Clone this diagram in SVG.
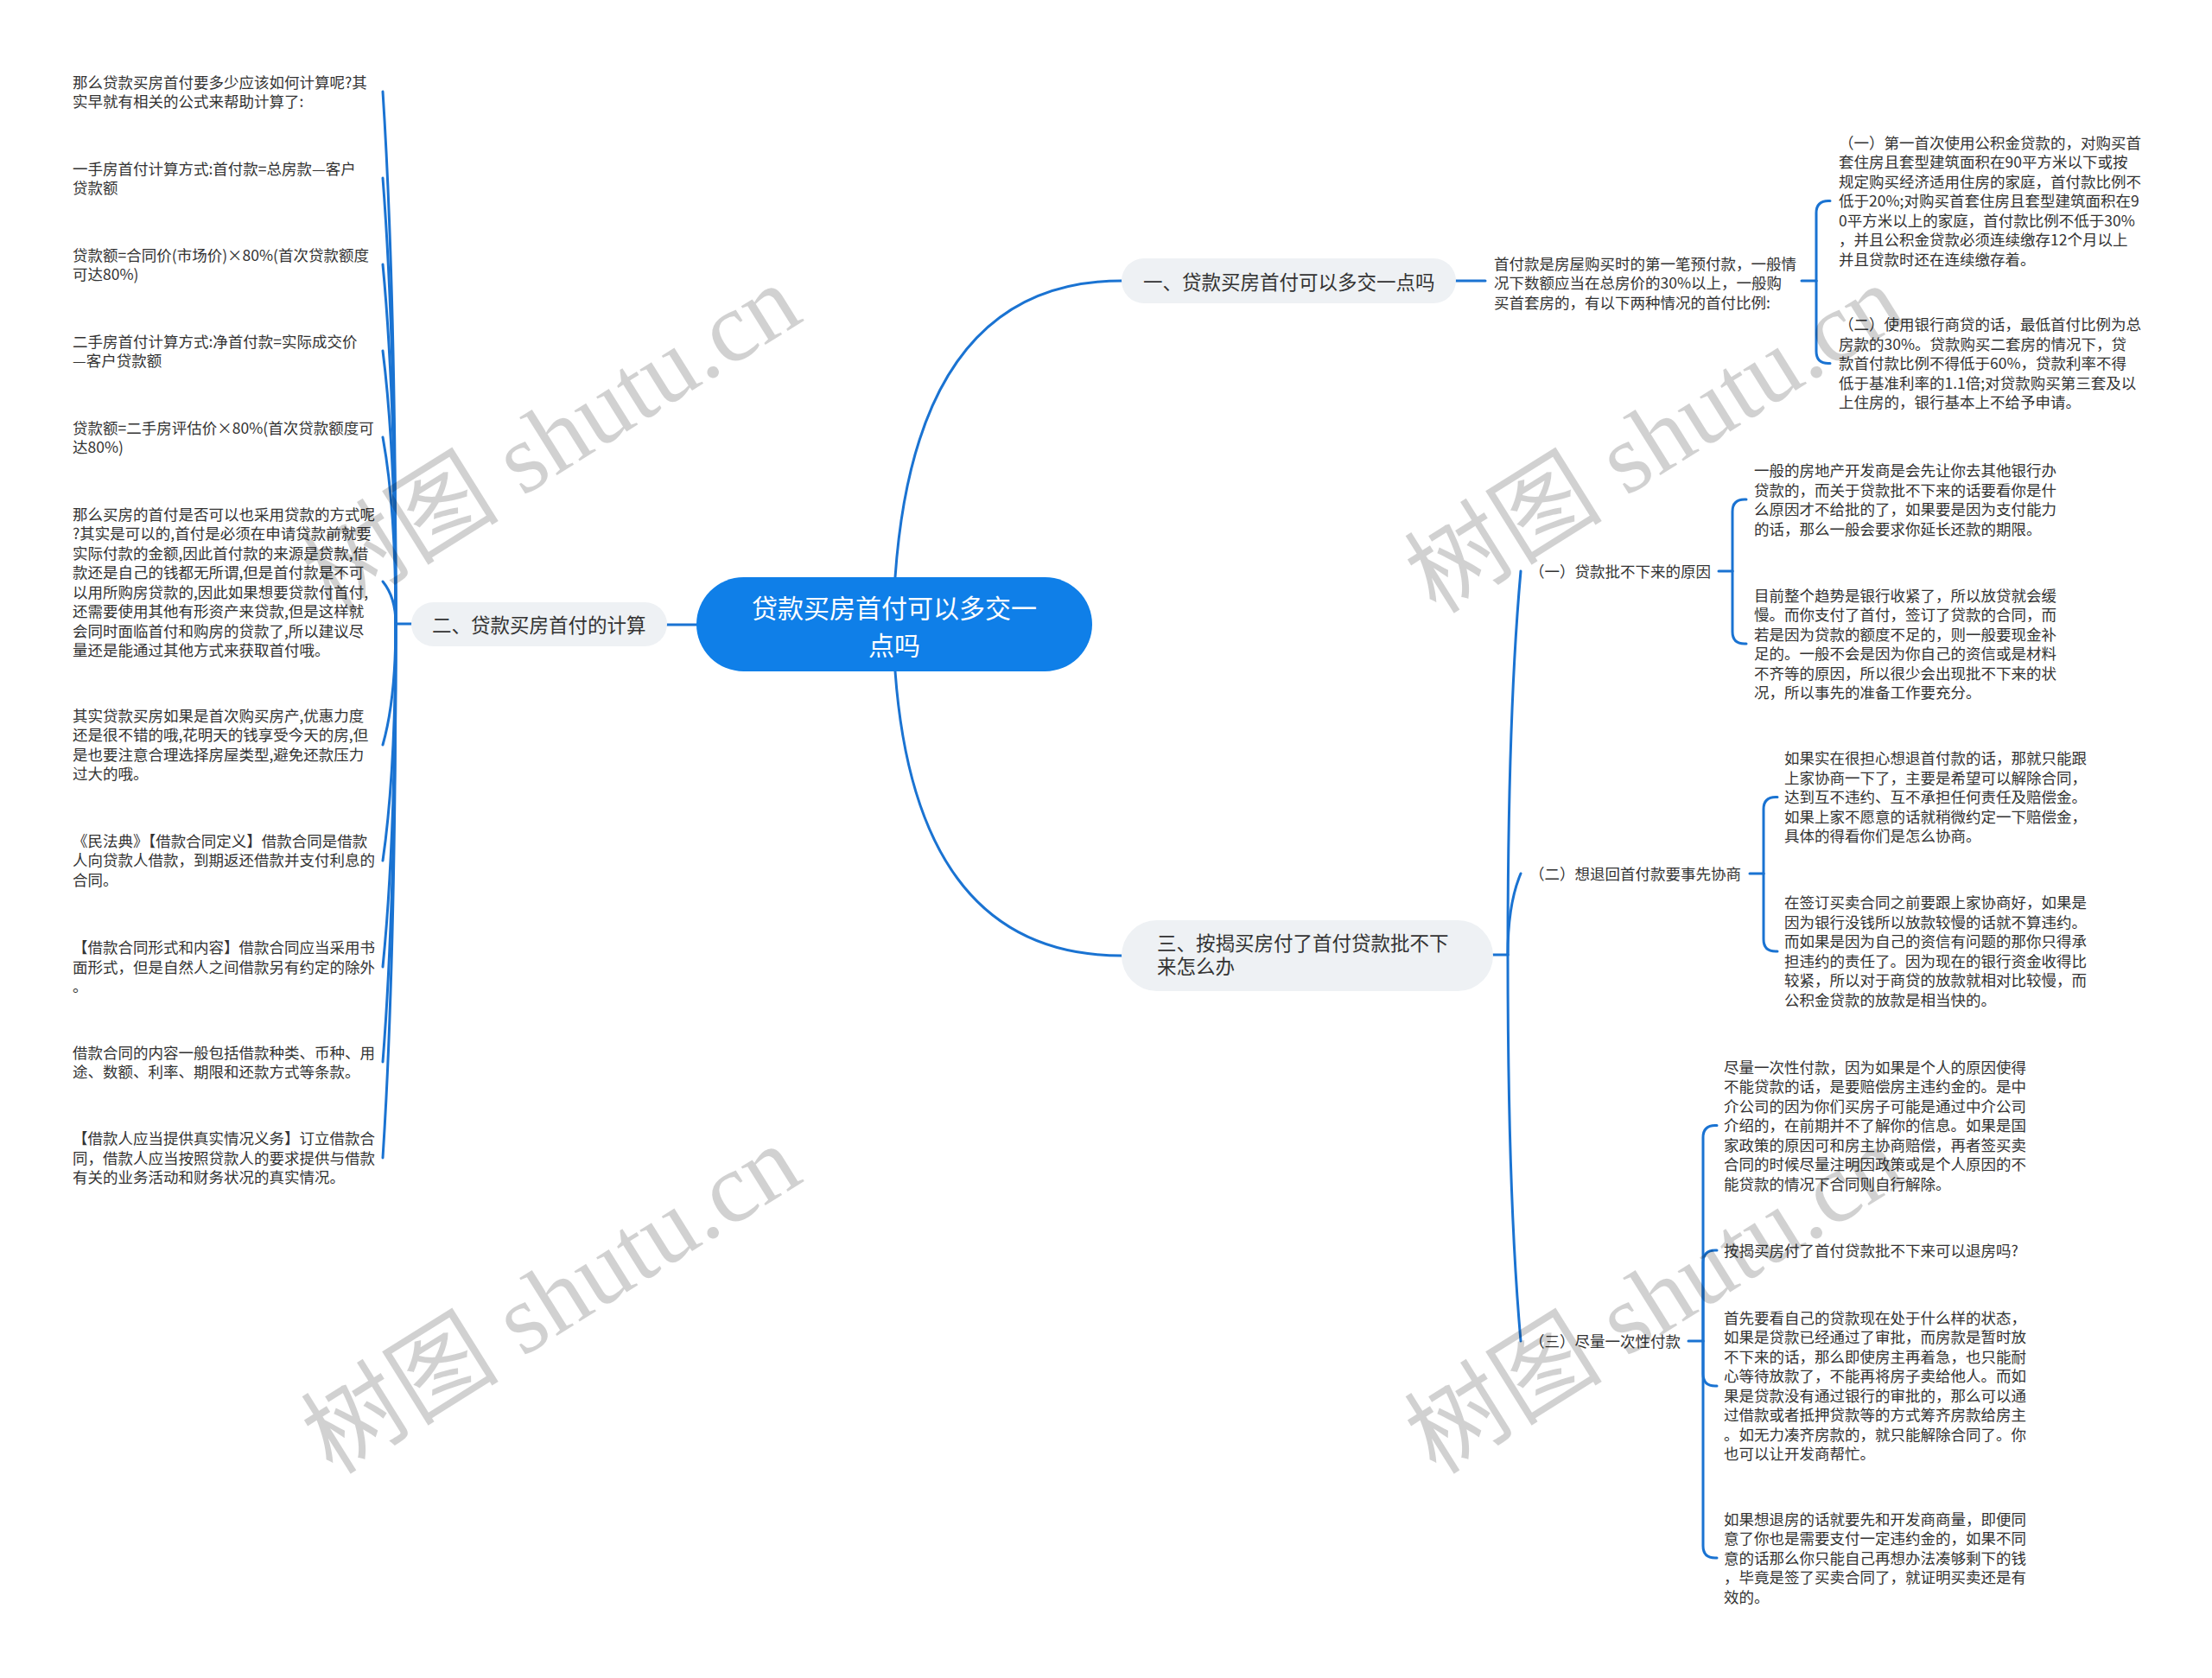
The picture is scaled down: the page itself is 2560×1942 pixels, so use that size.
<svg xmlns="http://www.w3.org/2000/svg" width="2560" height="1942" viewBox="0 0 2560 1942">
<style>
.t{font-family:"Noto Sans CJK SC","Microsoft YaHei",sans-serif;font-size:17.5px;fill:#333}
.b{font-family:"Noto Sans CJK SC","Microsoft YaHei",sans-serif;font-size:22.5px;fill:#333}
.r{font-family:"Noto Sans CJK SC","Microsoft YaHei",sans-serif;font-size:30px;fill:#fff}
.bf{fill:#eef1f4}
.ln{fill:none;stroke:#1a73d2;stroke-width:3;stroke-linecap:round}
.wm{font-family:"Liberation Serif","Noto Sans CJK SC",serif;font-size:115px;fill:#000;fill-opacity:0.18}
</style>
<rect width="2560" height="1942" fill="#fff"/>
<g id="connectors" class="ln">
<path d="M1036 668 Q1060 325 1298 325"/>
<path d="M1036 777 Q1060 1106 1298 1106"/>
<path d="M772 723 H806"/>
<path d="M476 722 H458"/>
<path d="M458 722 C458 568 457 321.6 443 106"/>
<path d="M458 722 C458 593 457 386.6 443 206"/>
<path d="M458 722 C458 618 457 451.6 443 306"/>
<path d="M458 722 C458 643 457 516.6 443 406"/>
<path d="M458 722 C458 668 457 581.6 443 506"/>
<path d="M458 722 C458 709.8 457 690.2 443 673"/>
<path d="M458 722 C458 757 457 813 443 862"/>
<path d="M458 722 C458 790.5 457 900.1 443 996"/>
<path d="M458 722 C458 821.3 457 980 443 1119"/>
<path d="M458 722 C458 848.8 457 1051.6 443 1229"/>
<path d="M458 722 C458 876.5 457 1123.7 443 1340"/>
<path d="M1685 325 H1719"/>
<path d="M2085 325 H2102"/>
<path d="M2102 325 V246.5 Q2102 232.5 2116 232.5 H2118"/>
<path d="M2102 325 V406.5 Q2102 420.5 2116 420.5 H2118"/>
<path d="M1728 1105 H1745"/>
<path d="M1745 1105 C1745 994 1746 816 1760 661"/>
<path d="M1745 1105 C1745 1081.5 1746 1043.9 1760 1011"/>
<path d="M1745 1105 C1745 1216.8 1746 1395.6 1760 1552"/>
<path d="M1989 661 H2005"/>
<path d="M2005 661 V592 Q2005 578 2019 578 H2021"/>
<path d="M2005 661 V731 Q2005 745 2019 745 H2021"/>
<path d="M2025 1011 H2041"/>
<path d="M2041 1011 V936.5 Q2041 922.5 2055 922.5 H2057"/>
<path d="M2041 1011 V1087 Q2041 1101 2055 1101 H2057"/>
<path d="M1954 1552 H1971"/>
<path d="M1971 1552 V1316.5 Q1971 1302.5 1985 1302.5 H1987"/>
<path d="M1971 1552 V1461 Q1971 1447 1985 1447 H1987"/>
<path d="M1971 1552 V1590 Q1971 1604 1985 1604 H1987"/>
<path d="M1971 1552 V1789 Q1971 1803 1985 1803 H1987"/>
</g>
<g id="root">
<rect x="806" y="668" width="458" height="109" rx="54.5" fill="#0f7fe8"/>
<text class="r" text-anchor="middle"><tspan x="1035" y="714.5">贷款买房首付可以多交一</tspan><tspan x="1035" y="758">点吗</tspan></text>
</g>
<g id="branch1">
<rect class="bf" x="1298" y="299" width="387" height="52" rx="26"/>
<text class="b" x="1323" y="334.5">一、贷款买房首付可以多交一点吗</text>
</g>
<g id="b1-intro">
<text class="t"><tspan x="1729" y="311.5">首付款是房屋购买时的第一笔预付款，一般情</tspan><tspan x="1729" dy="22.5">况下数额应当在总房价的30%以上，一般购</tspan><tspan x="1729" dy="22.5">买首套房的，有以下两种情况的首付比例:</tspan></text>
</g>
<g id="b1-c1">
<text class="t"><tspan x="2128" y="171.5">（一）第一首次使用公积金贷款的，对购买首</tspan><tspan x="2128" dy="22.5">套住房且套型建筑面积在90平方米以下或按</tspan><tspan x="2128" dy="22.5">规定购买经济适用住房的家庭，首付款比例不</tspan><tspan x="2128" dy="22.5">低于20%;对购买首套住房且套型建筑面积在9</tspan><tspan x="2128" dy="22.5">0平方米以上的家庭，首付款比例不低于30%</tspan><tspan x="2128" dy="22.5">，并且公积金贷款必须连续缴存12个月以上</tspan><tspan x="2128" dy="22.5">并且贷款时还在连续缴存着。</tspan></text>
</g>
<g id="b1-c2">
<text class="t"><tspan x="2128" y="382">（二）使用银行商贷的话，最低首付比例为总</tspan><tspan x="2128" dy="22.5">房款的30%。贷款购买二套房的情况下，贷</tspan><tspan x="2128" dy="22.5">款首付款比例不得低于60%，贷款利率不得</tspan><tspan x="2128" dy="22.5">低于基准利率的1.1倍;对贷款购买第三套及以</tspan><tspan x="2128" dy="22.5">上住房的，银行基本上不给予申请。</tspan></text>
</g>
<g id="branch2">
<rect class="bf" x="476" y="697" width="296" height="51" rx="25.5"/>
<text class="b" x="500" y="731.5">二、贷款买房首付的计算</text>
</g>
<g id="l1"><text class="t"><tspan x="84" y="101.5">那么贷款买房首付要多少应该如何计算呢?其</tspan><tspan x="84" dy="22.5">实早就有相关的公式来帮助计算了:</tspan></text></g>
<g id="l2"><text class="t"><tspan x="84" y="201.5">一手房首付计算方式:首付款=总房款—客户</tspan><tspan x="84" dy="22.5">贷款额</tspan></text></g>
<g id="l3"><text class="t"><tspan x="84" y="301.5">贷款额=合同价(市场价)×80%(首次贷款额度</tspan><tspan x="84" dy="22.5">可达80%)</tspan></text></g>
<g id="l4"><text class="t"><tspan x="84" y="401.5">二手房首付计算方式:净首付款=实际成交价</tspan><tspan x="84" dy="22.5">—客户贷款额</tspan></text></g>
<g id="l5"><text class="t"><tspan x="84" y="501.5">贷款额=二手房评估价×80%(首次贷款额度可</tspan><tspan x="84" dy="22.5">达80%)</tspan></text></g>
<g id="l6"><text class="t"><tspan x="84" y="601.5">那么买房的首付是否可以也采用贷款的方式呢</tspan><tspan x="84" dy="22.5">?其实是可以的,首付是必须在申请贷款前就要</tspan><tspan x="84" dy="22.5">实际付款的金额,因此首付款的来源是贷款,借</tspan><tspan x="84" dy="22.5">款还是自己的钱都无所谓,但是首付款是不可</tspan><tspan x="84" dy="22.5">以用所购房贷款的,因此如果想要贷款付首付,</tspan><tspan x="84" dy="22.5">还需要使用其他有形资产来贷款,但是这样就</tspan><tspan x="84" dy="22.5">会同时面临首付和购房的贷款了,所以建议尽</tspan><tspan x="84" dy="22.5">量还是能通过其他方式来获取首付哦。</tspan></text></g>
<g id="l7"><text class="t"><tspan x="84" y="834.5">其实贷款买房如果是首次购买房产,优惠力度</tspan><tspan x="84" dy="22.5">还是很不错的哦,花明天的钱享受今天的房,但</tspan><tspan x="84" dy="22.5">是也要注意合理选择房屋类型,避免还款压力</tspan><tspan x="84" dy="22.5">过大的哦。</tspan></text></g>
<g id="l8"><text class="t"><tspan x="84" y="979.5">《民法典》【借款合同定义】借款合同是借款</tspan><tspan x="84" dy="22.5">人向贷款人借款，到期返还借款并支付利息的</tspan><tspan x="84" dy="22.5">合同。</tspan></text></g>
<g id="l9"><text class="t"><tspan x="84" y="1103">【借款合同形式和内容】借款合同应当采用书</tspan><tspan x="84" dy="22.5">面形式，但是自然人之间借款另有约定的除外</tspan><tspan x="84" dy="22.5">。</tspan></text></g>
<g id="l10"><text class="t"><tspan x="84" y="1224.5">借款合同的内容一般包括借款种类、币种、用</tspan><tspan x="84" dy="22.5">途、数额、利率、期限和还款方式等条款。</tspan></text></g>
<g id="l11"><text class="t"><tspan x="84" y="1324">【借款人应当提供真实情况义务】订立借款合</tspan><tspan x="84" dy="22.5">同，借款人应当按照贷款人的要求提供与借款</tspan><tspan x="84" dy="22.5">有关的业务活动和财务状况的真实情况。</tspan></text></g>
<g id="branch3">
<rect class="bf" x="1298" y="1065" width="430" height="82" rx="41"/>
<text class="b"><tspan x="1339" y="1100">三、按揭买房付了首付贷款批不下</tspan><tspan x="1339" y="1127">来怎么办</tspan></text>
</g>
<g id="s1"><text class="t" x="1770" y="667.5">（一）贷款批不下来的原因</text></g>
<g id="s1-a1"><text class="t"><tspan x="2030" y="551">一般的房地产开发商是会先让你去其他银行办</tspan><tspan x="2030" dy="22.5">贷款的，而关于贷款批不下来的话要看你是什</tspan><tspan x="2030" dy="22.5">么原因才不给批的了，如果要是因为支付能力</tspan><tspan x="2030" dy="22.5">的话，那么一般会要求你延长还款的期限。</tspan></text></g>
<g id="s1-a2"><text class="t"><tspan x="2030" y="695.5">目前整个趋势是银行收紧了，所以放贷就会缓</tspan><tspan x="2030" dy="22.5">慢。而你支付了首付，签订了贷款的合同，而</tspan><tspan x="2030" dy="22.5">若是因为贷款的额度不足的，则一般要现金补</tspan><tspan x="2030" dy="22.5">足的。一般不会是因为你自己的资信或是材料</tspan><tspan x="2030" dy="22.5">不齐等的原因，所以很少会出现批不下来的状</tspan><tspan x="2030" dy="22.5">况，所以事先的准备工作要充分。</tspan></text></g>
<g id="s2"><text class="t" x="1770" y="1017.5">（二）想退回首付款要事先协商</text></g>
<g id="s2-b1"><text class="t"><tspan x="2065" y="884">如果实在很担心想退首付款的话，那就只能跟</tspan><tspan x="2065" dy="22.5">上家协商一下了，主要是希望可以解除合同，</tspan><tspan x="2065" dy="22.5">达到互不违约、互不承担任何责任及赔偿金。</tspan><tspan x="2065" dy="22.5">如果上家不愿意的话就稍微约定一下赔偿金，</tspan><tspan x="2065" dy="22.5">具体的得看你们是怎么协商。</tspan></text></g>
<g id="s2-b2"><text class="t"><tspan x="2065" y="1051">在签订买卖合同之前要跟上家协商好，如果是</tspan><tspan x="2065" dy="22.5">因为银行没钱所以放款较慢的话就不算违约。</tspan><tspan x="2065" dy="22.5">而如果是因为自己的资信有问题的那你只得承</tspan><tspan x="2065" dy="22.5">担违约的责任了。因为现在的银行资金收得比</tspan><tspan x="2065" dy="22.5">较紧，所以对于商贷的放款就相对比较慢，而</tspan><tspan x="2065" dy="22.5">公积金贷款的放款是相当快的。</tspan></text></g>
<g id="s3"><text class="t" x="1770" y="1558.5">（三）尽量一次性付款</text></g>
<g id="s3-c1"><text class="t"><tspan x="1995" y="1241.5">尽量一次性付款，因为如果是个人的原因使得</tspan><tspan x="1995" dy="22.5">不能贷款的话，是要赔偿房主违约金的。是中</tspan><tspan x="1995" dy="22.5">介公司的因为你们买房子可能是通过中介公司</tspan><tspan x="1995" dy="22.5">介绍的，在前期并不了解你的信息。如果是国</tspan><tspan x="1995" dy="22.5">家政策的原因可和房主协商赔偿，再者签买卖</tspan><tspan x="1995" dy="22.5">合同的时候尽量注明因政策或是个人原因的不</tspan><tspan x="1995" dy="22.5">能贷款的情况下合同则自行解除。</tspan></text></g>
<g id="s3-c2"><text class="t" x="1995" y="1453.5">按揭买房付了首付贷款批不下来可以退房吗?</text></g>
<g id="s3-c3"><text class="t"><tspan x="1995" y="1531.5">首先要看自己的贷款现在处于什么样的状态，</tspan><tspan x="1995" dy="22.5">如果是贷款已经通过了审批，而房款是暂时放</tspan><tspan x="1995" dy="22.5">不下来的话，那么即使房主再着急，也只能耐</tspan><tspan x="1995" dy="22.5">心等待放款了，不能再将房子卖给他人。而如</tspan><tspan x="1995" dy="22.5">果是贷款没有通过银行的审批的，那么可以通</tspan><tspan x="1995" dy="22.5">过借款或者抵押贷款等的方式筹齐房款给房主</tspan><tspan x="1995" dy="22.5">。如无力凑齐房款的，就只能解除合同了。你</tspan><tspan x="1995" dy="22.5">也可以让开发商帮忙。</tspan></text></g>
<g id="s3-c4"><text class="t"><tspan x="1995" y="1764.5">如果想退房的话就要先和开发商商量，即便同</tspan><tspan x="1995" dy="22.5">意了你也是需要支付一定违约金的，如果不同</tspan><tspan x="1995" dy="22.5">意的话那么你只能自己再想办法凑够剩下的钱</tspan><tspan x="1995" dy="22.5">，毕竟是签了买卖合同了，就证明买卖还是有</tspan><tspan x="1995" dy="22.5">效的。</tspan></text></g>
<g id="watermarks">
<text class="wm" transform="translate(385 712) rotate(-32)">树图 shutu.cn</text>
<text class="wm" transform="translate(1662 712) rotate(-32)">树图 shutu.cn</text>
<text class="wm" transform="translate(385 1708) rotate(-32)">树图 shutu.cn</text>
<text class="wm" transform="translate(1662 1708) rotate(-32)">树图 shutu.cn</text>
</g>
</svg>
